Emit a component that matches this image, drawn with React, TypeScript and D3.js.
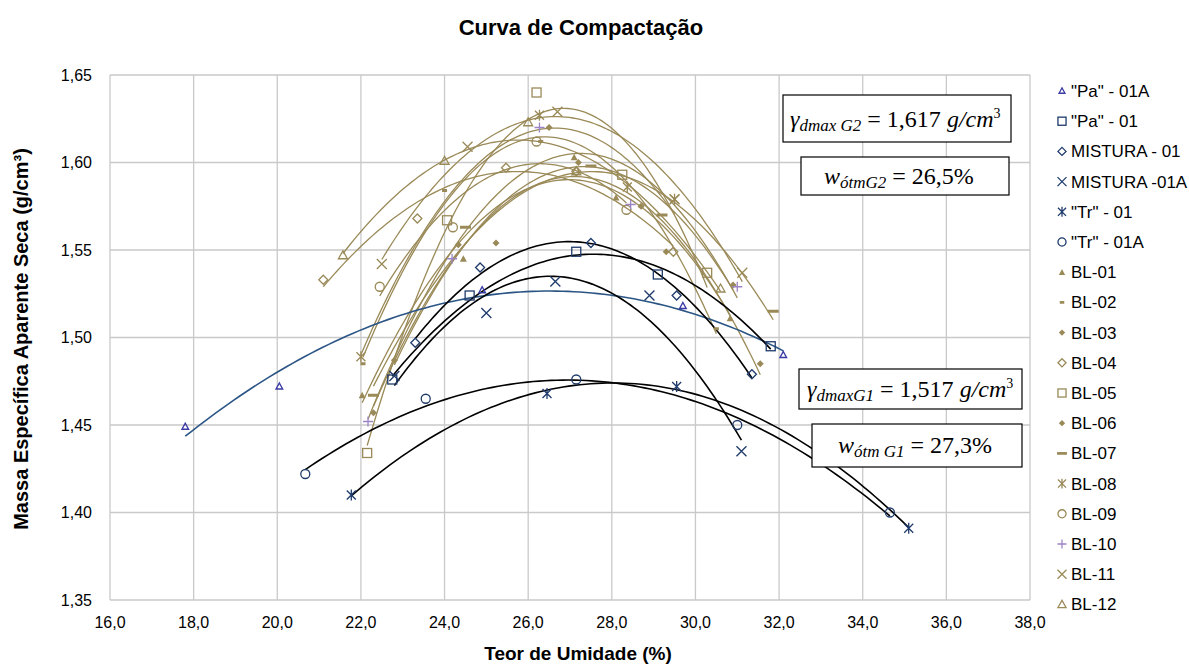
import React from 'react';
import * as d3 from 'd3';

const xTicks = [16, 18, 20, 22, 24, 26, 28, 30, 32, 34, 36, 38];
const yTicks = [1.35, 1.4, 1.45, 1.5, 1.55, 1.6, 1.65];

const seriesNames = ['"Pa" - 01A', '"Pa" - 01', 'MISTURA - 01', 'MISTURA -01A', '"Tr" - 01', '"Tr" - 01A',
  'BL-01', 'BL-02', 'BL-03', 'BL-04', 'BL-05', 'BL-06', 'BL-07', 'BL-08', 'BL-09', 'BL-10', 'BL-11', 'BL-12'];

// [teor de umidade %, massa específica g/cm³]
const pa01A = [[17.8, 1.449], [20.05, 1.472], [24.9, 1.527], [29.7, 1.518], [32.1, 1.49]];
const pa01 = [[22.75, 1.476], [24.6, 1.524], [27.15, 1.549], [29.1, 1.536], [31.8, 1.495]];
const mistura01 = [[23.3, 1.497], [24.85, 1.54], [27.5, 1.554], [29.55, 1.524], [31.35, 1.479]];
const mistura01A = [[22.8, 1.478], [25.0, 1.514], [26.65, 1.532], [28.9, 1.524], [31.1, 1.435]];
const tr01 = [[21.77, 1.41], [26.45, 1.468], [29.55, 1.472], [35.1, 1.391]];
const tr01A = [[20.67, 1.422], [23.55, 1.465], [27.15, 1.476], [31.0, 1.45], [34.65, 1.4]];
const bl01 = [[22.03, 1.467], [24.45, 1.545], [27.1, 1.603], [28.1, 1.58], [30.83, 1.511]];
const bl02 = [[22.05, 1.485], [24.0, 1.584], [26.3, 1.612], [28.7, 1.575], [30.5, 1.505]];
const bl03 = [[22.3, 1.457], [24.33, 1.553], [27.2, 1.6], [29.3, 1.549], [31.55, 1.485]];
const bl04 = [[21.1, 1.533], [23.35, 1.568], [25.47, 1.597], [27.15, 1.595], [29.47, 1.549]];
const bl05 = [[22.15, 1.434], [24.06, 1.567], [26.2, 1.64], [28.25, 1.593], [30.28, 1.537]];
const bl06 = [[22.8, 1.487], [25.23, 1.554], [26.5, 1.62], [28.7, 1.575], [30.9, 1.53]];
const bl07 = [[22.3, 1.467], [24.5, 1.563], [27.5, 1.598], [29.2, 1.57], [31.86, 1.515]];
const bl08 = [[22.0, 1.489], [26.27, 1.627], [28.37, 1.586], [29.5, 1.579]];
const bl09 = [[22.45, 1.529], [24.2, 1.563], [26.2, 1.612], [28.35, 1.573]];
const bl10 = [[22.17, 1.452], [24.18, 1.545], [26.27, 1.62], [28.45, 1.576], [31.0, 1.529]];
const bl11 = [[22.5, 1.542], [24.55, 1.609], [26.7, 1.629], [29.5, 1.579], [31.12, 1.537]];
const bl12 = [[21.57, 1.547], [24.0, 1.601], [26.0, 1.623], [27.15, 1.595], [30.6, 1.528]];

const seriesData = [pa01A, pa01, mistura01, mistura01A, tr01, tr01A, bl01, bl02, bl03, bl04, bl05, bl06, bl07, bl08, bl09, bl10, bl11, bl12];
const markerTypes = ['triS', 'square', 'diamond', 'cross', 'star', 'circle', 'triF', 'dashS', 'diamF', 'diamond', 'square', 'diamF', 'dashL', 'star', 'circle', 'plus', 'cross', 'tri'];

const NAVY = '#1f3b6b';
const GOLD = '#9a8a58';
const markerColors = ['#3b3ba6', NAVY, NAVY, NAVY, NAVY, NAVY,
  GOLD, GOLD, GOLD, GOLD, GOLD, GOLD, GOLD, GOLD, GOLD, '#9d84c4', GOLD, GOLD];
const lineColors = ['#2b5585', '#000', '#000', '#000', '#000', '#000',
  GOLD, GOLD, GOLD, GOLD, GOLD, GOLD, GOLD, GOLD, GOLD, GOLD, GOLD, GOLD];

function quadFit(pts: number[][]) {
  let n = pts.length, sx = 0, sx2 = 0, sx3 = 0, sx4 = 0, sy = 0, sxy = 0, sx2y = 0;
  for (const [x, y] of pts) {
    sx += x; sx2 += x * x; sx3 += x ** 3; sx4 += x ** 4; sy += y; sxy += x * y; sx2y += x * x * y;
  }
  const M = [[sx4, sx3, sx2], [sx3, sx2, sx], [sx2, sx, n]];
  const B = [sx2y, sxy, sy];
  const det = (m: number[][]) =>
    m[0][0] * (m[1][1] * m[2][2] - m[1][2] * m[2][1]) -
    m[0][1] * (m[1][0] * m[2][2] - m[1][2] * m[2][0]) +
    m[0][2] * (m[1][0] * m[2][1] - m[1][1] * m[2][0]);
  const D = det(M);
  const rep = (c: number) => M.map((r, i) => r.map((v, j) => (j === c ? B[i] : v)));
  return [det(rep(0)) / D, det(rep(1)) / D, det(rep(2)) / D];
}

function Marker({ type, color, x, y, s = 1 }: any) {
  const t = `translate(${x},${y}) scale(${s})`;
  const sw = 1.3 / s;
  switch (type) {
    case 'triS':
      return <path transform={t} d="M0,-3.5L3.3,2.5L-3.3,2.5Z" fill="none" stroke={color} strokeWidth={1.4} />;
    case 'tri':
      return <path transform={t} d="M0,-4.5L4.5,3.5L-4.5,3.5Z" fill="none" stroke={color} strokeWidth={sw} />;
    case 'triF':
      return <path transform={t} d="M0,-3.5L3.5,3L-3.5,3Z" fill={color} />;
    case 'square':
      return <rect transform={t} x={-4.5} y={-4.5} width={9} height={9} fill="none" stroke={color} strokeWidth={sw} />;
    case 'diamond':
      return <path transform={t} d="M0,-4.5L4.5,0L0,4.5L-4.5,0Z" fill="none" stroke={color} strokeWidth={sw} />;
    case 'diamF':
      return <path transform={t} d="M0,-3.5L3.5,0L0,3.5L-3.5,0Z" fill={color} />;
    case 'cross':
      return <path transform={t} d="M-5,-5L5,5M5,-5L-5,5" fill="none" stroke={color} strokeWidth={sw} />;
    case 'star':
      return <path transform={t} d="M-4.5,-4.5L4.5,4.5M4.5,-4.5L-4.5,4.5M0,-5.5L0,5.5" fill="none" stroke={color} strokeWidth={sw} />;
    case 'circle':
      return <circle transform={t} r={4.5} fill="none" stroke={color} strokeWidth={sw} />;
    case 'dashS':
      return <rect transform={t} x={-2.5} y={-1.5} width={5} height={3} fill={color} />;
    case 'dashL':
      return <rect transform={t} x={-5.5} y={-1.5} width={11} height={3} fill={color} />;
    case 'plus':
      return <path transform={t} d="M-5,0L5,0M0,-5L0,5" fill="none" stroke={color} strokeWidth={sw} />;
  }
  return null;
}

const W = 1189, H = 666;
const left = 110, right = 1030, top = 75, bottom = 600;

export default function App() {
  const x = d3.scaleLinear().domain([16, 38]).range([left, right]);
  const y = d3.scaleLinear().domain([1.35, 1.65]).range([bottom, top]);
  const line = d3.line<number[]>().x(d => x(d[0])).y(d => y(d[1]));

  const trend = seriesData.map(pts => {
    const [a, b, c] = quadFit(pts);
    const xs = pts.map(p => p[0]);
    const x0 = d3.min(xs)!, x1 = d3.max(xs)!;
    const samples = d3.range(0, 101).map(i => {
      const xv = x0 + ((x1 - x0) * i) / 100;
      return [xv, a * xv * xv + b * xv + c];
    });
    return line(samples)!;
  });

  const order = [6, 7, 8, 9, 10, 11, 12, 13, 14, 15, 16, 17, 0, 1, 2, 3, 4, 5];
  const font = '"Liberation Sans", Arial, sans-serif';
  const mfont = '"Liberation Serif", "DejaVu Serif", serif';

  return (
    <svg width={W} height={H} style={{ position: 'absolute', left: 0, top: 0, background: '#fff' }} fontFamily={font}>
      <rect width={W} height={H} fill="#fff" />
      <text x={581} y={35} textAnchor="middle" fontSize={22} fontWeight="bold">Curva de Compactação</text>
      {xTicks.map(t => (
        <line key={'gx' + t} x1={x(t)} x2={x(t)} y1={top} y2={bottom} stroke="#c9c9c9" strokeWidth={1.3} />
      ))}
      {yTicks.map(t => (
        <line key={'gy' + t} x1={left} x2={right} y1={y(t)} y2={y(t)} stroke="#c9c9c9" strokeWidth={1.3} />
      ))}
      {yTicks.map(t => (
        <text key={'ty' + t} x={92} y={y(t) + 5.5} textAnchor="end" fontSize={16}>{t.toFixed(2).replace('.', ',')}</text>
      ))}
      {xTicks.map(t => (
        <text key={'tx' + t} x={x(t)} y={628} textAnchor="middle" fontSize={16}>{t.toFixed(1).replace('.', ',')}</text>
      ))}
      <text x={578} y={660} textAnchor="middle" fontSize={19} fontWeight="bold">Teor de Umidade (%)</text>
      <text transform="translate(28,339) rotate(-90)" textAnchor="middle" fontSize={20} fontWeight="bold">Massa Específica Aparente Seca (g/cm³)</text>

      {order.map(i => (
        <path key={'l' + i} d={trend[i]} fill="none" stroke={lineColors[i]} strokeWidth={i < 6 ? 1.6 : 1.3} />
      ))}
      {order.map(i => seriesData[i].map((p, k) => (
        <Marker key={'m' + i + '-' + k} type={markerTypes[i]} color={markerColors[i]} x={x(p[0])} y={y(p[1])} />
      )))}

      {seriesNames.map((n, i) => (
        <g key={'lg' + i}>
          <Marker type={markerTypes[i]} color={markerColors[i]} x={1062} y={91 + i * 30.2} s={0.9} />
          <text x={1071} y={91 + i * 30.2 + 6} fontSize={17}>{n}</text>
        </g>
      ))}

      <rect x={783} y={95} width={228} height={47} fill="#fff" stroke="#000" strokeWidth={1.2} />
      <text x={790} y={127} fontFamily={mfont} fontSize={24}>
        <tspan fontStyle="italic">γ</tspan>
        <tspan fontStyle="italic" fontSize={17} dy={4}>dmax G2</tspan>
        <tspan dy={-4}> = 1,617 </tspan>
        <tspan fontStyle="italic">g/cm</tspan>
        <tspan fontSize={14} dy={-9}>3</tspan>
      </text>
      <rect x={801} y={157} width={208} height={38} fill="#fff" stroke="#000" strokeWidth={1.2} />
      <text x={824} y={184} fontFamily={mfont} fontSize={24}>
        <tspan fontStyle="italic">w</tspan>
        <tspan fontStyle="italic" fontSize={17} dy={4}>ótmG2</tspan>
        <tspan dy={-4}> = 26,5%</tspan>
      </text>
      <rect x={799} y={369} width={223} height={40} fill="#fff" stroke="#000" strokeWidth={1.2} />
      <text x={807} y={397} fontFamily={mfont} fontSize={24}>
        <tspan fontStyle="italic">γ</tspan>
        <tspan fontStyle="italic" fontSize={17} dy={4}>dmaxG1</tspan>
        <tspan dy={-4}> = 1,517 </tspan>
        <tspan fontStyle="italic">g/cm</tspan>
        <tspan fontSize={14} dy={-9}>3</tspan>
      </text>
      <rect x={812} y={424} width={210} height={43} fill="#fff" stroke="#000" strokeWidth={1.2} />
      <text x={838} y={453} fontFamily={mfont} fontSize={24}>
        <tspan fontStyle="italic">w</tspan>
        <tspan fontStyle="italic" fontSize={17} dy={4}>ótm G1</tspan>
        <tspan dy={-4}> = 27,3%</tspan>
      </text>
    </svg>
  );
}
